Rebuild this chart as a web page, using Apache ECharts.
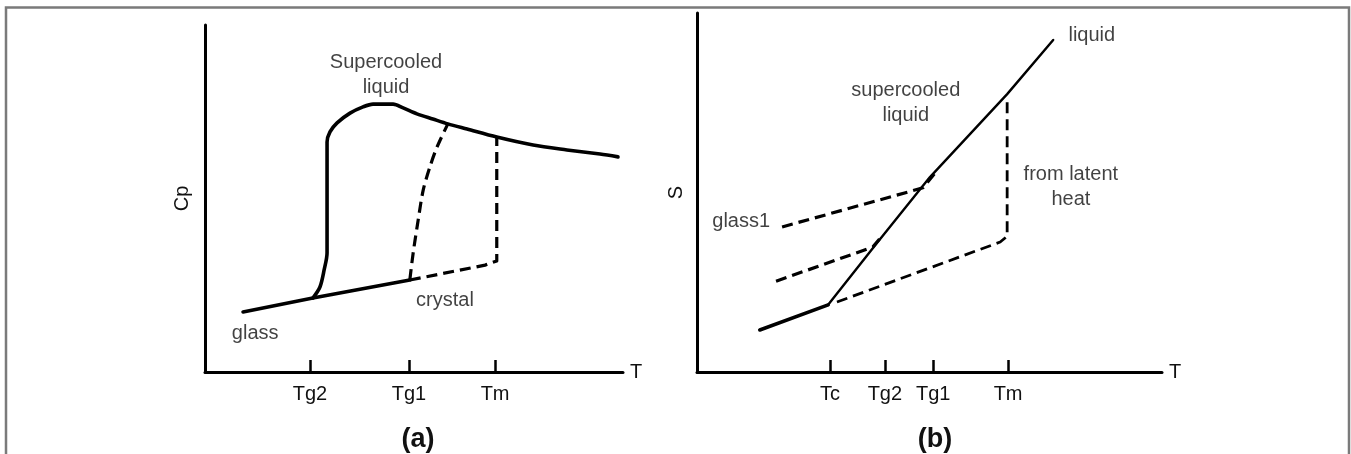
<!DOCTYPE html>
<html>
<head>
<meta charset="utf-8">
<script src="https://cdn.jsdelivr.net/npm/echarts@6/dist/echarts.min.js"></script>
<style>
html,body{margin:0;padding:0;background:#fff;}
#chart{width:1351px;height:454px;}
</style>
</head>
<body>
<div id="chart"></div>
<script>
// ---------- Panel (a): Cp vs T ----------
const ticksA = ['Tg2', 'Tg1', 'Tm'];
const tickValuesA = [25.1, 48.8, 69.4];
const glassA = [[9.1, 17.3], [25.8, 21.3], [49.0, 26.5]];
const supercooledA = [[25.8, 21.3], [27.5, 24.5], [28.5, 29.4], [29.2, 34.3], [29.2, 49.6], [29.2, 66.3],
  [29.9, 69.2], [31.6, 71.8], [34.7, 74.6], [37.8, 76.4], [40.2, 77.2], [45.0, 77.2], [47.4, 76.1],
  [50.7, 74.4], [54.5, 72.9], [58.1, 71.5], [62.7, 70.0], [69.8, 67.7], [78.5, 65.4], [86.6, 64.0],
  [94.5, 62.8], [98.8, 62.0]];
const crystalA = [[49.0, 26.5], [67.0, 30.8], [69.8, 32.0], [69.8, 67.7]];
const tg1CurveA = [[49.0, 26.5], [49.8, 34.3], [51.0, 43.8], [52.2, 52.4], [53.8, 59.1], [55.5, 64.8], [58.1, 71.5]];
const notesA = [
  {name: 'Supercooled\nliquid', value: [43.3, 85.7]},
  {name: 'crystal', value: [57.4, 20.7]},
  {name: 'glass', value: [12.0, 11.2]}
];

// ---------- Panel (b): S vs T ----------
const ticksB = ['Tc', 'Tg2', 'Tg1', 'Tm'];
const tickValuesB = [28.6, 40.4, 50.8, 66.9];
const glassB = [[13.5, 11.7], [28.2, 18.7]];
const liquidB = [[28.2, 18.7], [38.7, 35.9], [50.1, 54.3], [66.7, 77.4], [76.6, 92.5]];
const glass1B = [[18.3, 40.4], [48.6, 51.3], [51.2, 55.4]];
const glass2B = [[17.0, 25.3], [37.8, 34.8], [40.0, 38.2]];
const crystalB = [[30.1, 19.5], [65.2, 36.2], [66.7, 37.8], [66.7, 76.6]];
const notesB = [
  {name: 'liquid', value: [84.9, 93.6]},
  {name: 'supercooled\nliquid', value: [44.9, 74.8]},
  {name: 'from latent\nheat', value: [80.4, 51.4]},
  {name: 'glass1', value: [9.5, 41.8]}
];

const FONT = "'Liberation Sans', Arial, Helvetica, sans-serif";
const TXT = '#111';
const FS = 20;

function makeXAxis(gridIndex, names, values) {
  const map = {};
  values.forEach((v, i) => { map[v] = names[i]; });
  return {
    type: 'value', gridIndex: gridIndex, min: 0, max: 100,
    name: 'T', nameLocation: 'end', nameGap: 7,
    nameTextStyle: {fontFamily: FONT, fontSize: FS, color: TXT, verticalAlign: 'middle'},
    axisLine: {show: true, onZero: false, lineStyle: {color: '#000', width: 3}},
    axisTick: {show: true, inside: true, length: 12, customValues: values, lineStyle: {color: '#000', width: 2.5}},
    axisLabel: {show: true, customValues: values, margin: 12, fontFamily: FONT, fontSize: FS, color: TXT,
      formatter: function (v) { return map[v] !== undefined ? map[v] : ''; }},
    splitLine: {show: false}
  };
}
function makeYAxis(gridIndex, name, gap) {
  return {
    type: 'value', gridIndex: gridIndex, min: 0, max: 100,
    name: name, nameLocation: 'middle', nameGap: gap, nameRotate: 90,
    nameTextStyle: {fontFamily: FONT, fontSize: FS, color: TXT},
    axisLine: {show: true, onZero: false, lineStyle: {color: '#000', width: 3}},
    axisTick: {show: false}, axisLabel: {show: false}, splitLine: {show: false}
  };
}
function lineSeries(idx, data, opts) {
  return Object.assign({
    type: 'line', xAxisIndex: idx, yAxisIndex: idx, data: data,
    showSymbol: false, symbol: 'none', silent: true, animation: false,
    lineStyle: {color: '#000', width: 3.6, cap: 'round', join: 'round'}
  }, opts || {});
}
function dashed(idx, data, width, smooth) {
  return lineSeries(idx, data, {
    smooth: smooth || false,
    lineStyle: {color: '#000', width: width, type: [11, 6], cap: 'butt', join: 'round'}
  });
}
function notes(idx, data) {
  return {
    type: 'scatter', xAxisIndex: idx, yAxisIndex: idx, data: data, symbolSize: 0, silent: true,
    animation: false,
    label: {show: true, position: 'inside', formatter: '{b}', fontFamily: FONT, fontSize: FS,
      lineHeight: 25, color: TXT, align: 'center', verticalAlign: 'middle'}
  };
}

const chart = echarts.init(document.getElementById('chart'), null, {renderer: 'canvas'});
chart.setOption({
  backgroundColor: '#fff',
  animation: false,
  title: [
    {text: '(a)', left: 413, top: 421, textAlign: 'center',
      textStyle: {fontFamily: FONT, fontSize: 27, fontWeight: 'bold', color: TXT}},
    {text: '(b)', left: 930, top: 421, textAlign: 'center',
      textStyle: {fontFamily: FONT, fontSize: 27, fontWeight: 'bold', color: TXT}}
  ],
  graphic: [{
    type: 'rect', silent: true,
    shape: {x: 6, y: 7.5, width: 1343, height: 470},
    style: {fill: 'none', stroke: '#7a7a7a', lineWidth: 2.5}
  }],
  grid: [
    {left: 205, top: 25, width: 418, height: 347},
    {left: 697, top: 13, width: 465, height: 359}
  ],
  xAxis: [makeXAxis(0, ticksA, tickValuesA), makeXAxis(1, ticksB, tickValuesB)],
  yAxis: [makeYAxis(0, 'Cp', 13), makeYAxis(1, 'S', 11)],
  series: [
    lineSeries(0, glassA),
    lineSeries(0, supercooledA, {smooth: 0.3}),
    dashed(0, crystalA, 3.2, false),
    dashed(0, tg1CurveA, 3.2, 0.3),
    notes(0, notesA),
    lineSeries(1, glassB, {lineStyle: {color: '#000', width: 3.6, cap: 'round', join: 'round'}}),
    lineSeries(1, liquidB, {lineStyle: {color: '#000', width: 2.4, cap: 'round', join: 'round'}}),
    dashed(1, glass1B, 3.2, false),
    dashed(1, glass2B, 3.2, false),
    dashed(1, crystalB, 2.8, false),
    notes(1, notesB)
  ]
});
</script>
</body>
</html>
